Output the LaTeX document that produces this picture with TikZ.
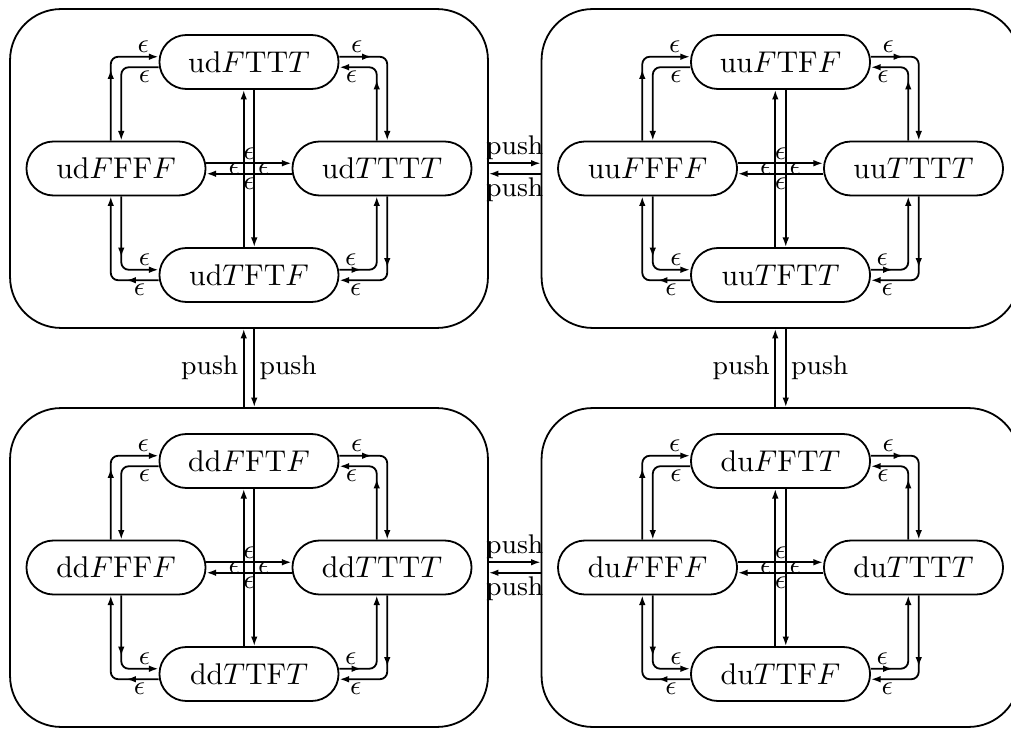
\documentclass[tikz,border=0pt]{standalone}
\usetikzlibrary{shapes.misc,arrows.meta,decorations.markings}

\tikzset{
	mode/.style={draw, rounded rectangle, minimum width=61.7pt, minimum height=18pt, inner sep=1pt},
	cluster/.style={draw, rounded corners=17pt, minimum width=159.3pt, minimum height=106.3pt},
	arr/.style={-{Latex[length=3.2pt,width=2.2pt]}},
	midarr/.style={postaction={decorate}, decoration={markings, mark=at position #1 with {\arrow{Latex[length=3.2pt,width=2.2pt]}}}},
	lab/.style={font=\small, inner sep=1pt},
	elbow/.style={arr, rounded corners=2.5pt},
}

\def\off{1.75pt}

% one group of four states: name, centre, top, left, right, bottom
\newcommand{\drawcluster}[6]{
	\node[cluster] (#1) at (#2) {};
	\begin{scope}[shift={(#2)}]
		\node[mode] (#1-t) at (0,35.5) {#3};
		\node[mode] (#1-l) at (-44.33,0) {#4};
		\node[mode] (#1-r) at (44.33,0) {#5};
		\node[mode] (#1-b) at (0,-35.5) {#6};
	\end{scope}
	% middle
	\draw[arr] ([xshift=-\off]#1-b.north) -- node[lab,left] {$\epsilon$} ([xshift=-\off]#1-t.south);
	\draw[arr] ([xshift=\off]#1-t.south) -- node[lab,right] {$\epsilon$} ([xshift=\off]#1-b.north);
	\draw[arr] ([yshift=\off]#1-l.east) -- node[lab,above] {$\epsilon$} ([yshift=\off]#1-r.west);
	\draw[arr] ([yshift=-\off]#1-r.west) -- node[lab,below] {$\epsilon$} ([yshift=-\off]#1-l.east);
	% corners
	\draw[elbow,midarr=23.75pt] ([xshift=-\off]#1-l.north) |- node[lab,above,pos=0.84] {$\epsilon$} ([yshift=\off]#1-t.west);
	\draw[elbow] ([yshift=-\off]#1-t.west) -| node[lab,below,pos=0.19] {$\epsilon$} ([xshift=\off]#1-l.north);
	\draw[elbow,midarr=10.75pt] ([yshift=\off]#1-t.east) -| node[lab,above,pos=0.18] {$\epsilon$} ([xshift=\off]#1-r.north);
	\draw[elbow,midarr=20.25pt] ([xshift=-\off]#1-r.north) |- node[lab,below,pos=0.84] {$\epsilon$} ([yshift=-\off]#1-t.east);
	\draw[elbow,midarr=23.75pt] ([xshift=\off]#1-r.south) |- node[lab,below,pos=0.83] {$\epsilon$} ([yshift=-\off]#1-b.east);
	\draw[elbow,midarr=7.25pt] ([yshift=\off]#1-b.east) -| node[lab,above,pos=0.15] {$\epsilon$} ([xshift=-\off]#1-r.south);
	\draw[elbow,midarr=20.25pt] ([xshift=\off]#1-l.south) |- node[lab,above,pos=0.81] {$\epsilon$} ([yshift=\off]#1-b.west);
	\draw[elbow,midarr=10.75pt] ([yshift=-\off]#1-b.west) -| node[lab,below,pos=0.2] {$\epsilon$} ([xshift=-\off]#1-l.south);
}

\begin{document}
\begin{tikzpicture}[x=1pt, y=1pt, line width=0.6pt]
	\useasboundingbox (0,0) rectangle (337,243);
	\drawcluster{ud}{83,186.83}{ud$F$TT$T$}{ud$F$FF$F$}{ud$T$TT$T$}{ud$T$FT$F$}
	\drawcluster{uu}{260.17,186.83}{uu$F$TF$F$}{uu$F$FF$F$}{uu$T$TT$T$}{uu$T$FT$T$}
	\drawcluster{dd}{83,53.83}{dd$F$FT$F$}{dd$F$FF$F$}{dd$T$TT$T$}{dd$T$TF$T$}
	\drawcluster{du}{260.17,53.83}{du$F$FT$T$}{du$F$FF$F$}{du$T$TT$T$}{du$T$TF$F$}
	% push between groups
	\draw[arr] ([yshift=\off]ud.east) -- node[lab,above] {push} ([yshift=\off]uu.west);
	\draw[arr] ([yshift=-\off]uu.west) -- node[lab,below] {push} ([yshift=-\off]ud.east);
	\draw[arr] ([yshift=\off]dd.east) -- node[lab,above] {push} ([yshift=\off]du.west);
	\draw[arr] ([yshift=-\off]du.west) -- node[lab,below] {push} ([yshift=-\off]dd.east);
	\draw[arr] ([xshift=-\off]dd.north) -- node[lab,left,inner sep=1.5pt] {push} ([xshift=-\off]ud.south);
	\draw[arr] ([xshift=\off]ud.south) -- node[lab,right,inner sep=1.5pt] {push} ([xshift=\off]dd.north);
	\draw[arr] ([xshift=-\off]du.north) -- node[lab,left,inner sep=1.5pt] {push} ([xshift=-\off]uu.south);
	\draw[arr] ([xshift=\off]uu.south) -- node[lab,right,inner sep=1.5pt] {push} ([xshift=\off]du.north);
\end{tikzpicture}
\end{document}
